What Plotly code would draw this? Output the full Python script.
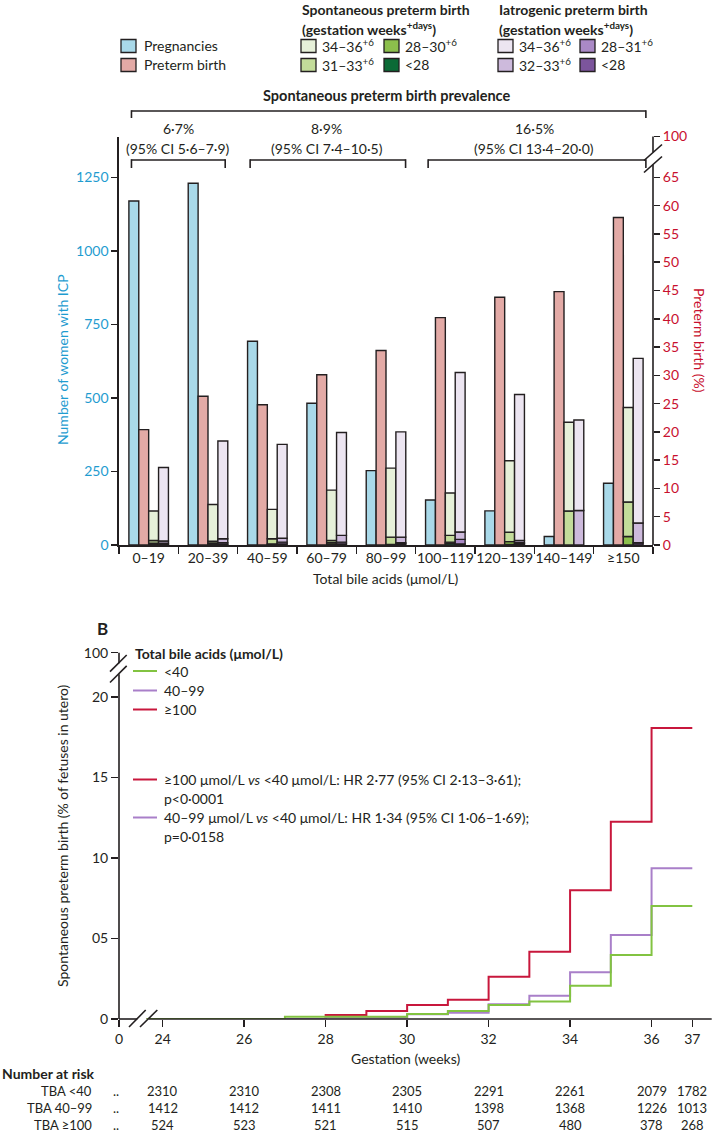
import plotly.graph_objects as go
import numpy as np

W, H = 713, 1133
def px(x): return x / W
def py(y): return 1 - y / H

# ---------------- DATA: Panel A ----------------
categories = ["0–19", "20–39", "40–59", "60–79", "80–99", "100–119", "120–139", "140–149", "≥150"]
pregnancies = [1170, 1230, 693, 482, 253, 153, 116, 29, 210]
preterm_pct = [20.4, 26.3, 24.8, 30.1, 34.4, 40.2, 43.8, 44.8, 57.9]
# spontaneous preterm birth (%), by gestation at delivery
sp_lt28 = [0.1, 0.15, 0.05, 0.1, 0.0, 0.3, 0.1, 0.0, 0.0]
sp_28_30 = [0.2, 0.2, 0.15, 0.3, 0.1, 0.2, 0.5, 0.0, 1.5]
sp_31_33 = [0.5, 0.3, 0.9, 0.4, 1.3, 1.2, 1.65, 6.0, 6.1]
sp_34_36 = [5.2, 6.5, 5.2, 8.9, 12.2, 7.5, 12.65, 15.7, 16.7]
# iatrogenic preterm birth (%)
ia_lt28 = [0.1, 0.1, 0.2, 0.2, 0.2, 0.2, 0.2, 0.0, 0.4]
ia_28_31 = [0.2, 0.3, 0.3, 0.3, 0.2, 0.8, 0.2, 0.0, 0.0]
ia_32_33 = [0.4, 0.7, 0.7, 1.2, 1.0, 1.3, 0.4, 6.1, 3.5]
ia_34_36 = [13.0, 17.3, 16.6, 18.2, 18.6, 28.2, 25.8, 16.0, 29.1]
left_ticks = [0, 250, 500, 750, 1000, 1250]
right_ticks = [0, 5, 10, 15, 20, 25, 30, 35, 40, 45, 50, 55, 60, 65]
prevalence = ["6·7%", "8·9%", "16·5%"]
prevalence_ci = ["(95% CI 5·6–7·9)", "(95% CI 7·4–10·5)", "(95% CI 13·4–20·0)"]

# ---------------- DATA: Panel B ----------------
weeks = [23.6, 27, 28, 29, 30, 31, 32, 33, 34, 35, 36, 37]
tba_lt40 = [0, 0.14, 0.14, 0.14, 0.31, 0.5, 0.87, 1.08, 2.07, 3.98, 7.02, 7.02]
tba_40_99 = [0, 0, 0.1, 0.1, 0.29, 0.39, 0.91, 1.45, 2.9, 5.22, 9.36, 9.36]
tba_ge100 = [0, 0, 0.25, 0.5, 0.87, 1.2, 2.63, 4.18, 8.0, 12.25, 18.07, 18.07]
b_xticks = [24, 26, 28, 30, 32, 34, 36, 37]
b_yticks = [0, 5, 10, 15, 20]
b_yticktext = ["0", "05", "10", "15", "20"]
risk_weeks = [24, 26, 28, 30, 32, 34, 36, 37]
risk_labels = ["TBA <40", "TBA 40–99", "TBA ≥100"]
risk_lt40 = [2310, 2310, 2308, 2305, 2291, 2261, 2079, 1782]
risk_40_99 = [1412, 1412, 1411, 1410, 1398, 1368, 1226, 1013]
risk_ge100 = [524, 523, 521, 515, 507, 480, 378, 268]

# ---------------- STYLE ----------------
FONT = "Lato"
C_AX = "#231f20"
C_CYAN = "#1f9cd0"
C_RED = "#c8102e"
C_PREG = "#a9d9e9"
C_PTB = "#e3aaa6"
C_SP = {"34": "#e6f0d9", "31": "#c3dc9a", "28": "#8cbf4c", "lt": "#0b6a36"}
C_IA = {"34": "#ece5f1", "32": "#cdbadc", "28": "#aa89c6", "lt": "#7c559c"}
L_GREEN = "#82c341"
L_PURPLE = "#a97fc9"
L_RED = "#c8173c"

BW = 1 / 6
bar_line = dict(color=C_AX, width=1.4)

fig = go.Figure()

# Panel A bars
fig.add_trace(go.Bar(x=categories, y=pregnancies, xaxis="x", yaxis="y", width=BW, offset=-2 * BW,
                     marker=dict(color=C_PREG, line=bar_line), showlegend=False))
fig.add_trace(go.Bar(x=categories, y=preterm_pct, xaxis="x", yaxis="y2", width=BW, offset=-BW,
                     marker=dict(color=C_PTB, line=bar_line), showlegend=False))
base = np.zeros(len(categories))
for vals, col in [(sp_lt28, C_SP["lt"]), (sp_28_30, C_SP["28"]), (sp_31_33, C_SP["31"]), (sp_34_36, C_SP["34"])]:
    fig.add_trace(go.Bar(x=categories, y=vals, base=base.copy(), xaxis="x", yaxis="y2", width=BW, offset=0,
                         marker=dict(color=col, line=bar_line), showlegend=False))
    base += np.array(vals)
base = np.zeros(len(categories))
for vals, col in [(ia_lt28, C_IA["lt"]), (ia_28_31, C_IA["28"]), (ia_32_33, C_IA["32"]), (ia_34_36, C_IA["34"])]:
    fig.add_trace(go.Bar(x=categories, y=vals, base=base.copy(), xaxis="x", yaxis="y2", width=BW, offset=BW,
                         marker=dict(color=col, line=bar_line), showlegend=False))
    base += np.array(vals)

# Panel B curves
for ys, col in [(tba_ge100, L_RED), (tba_40_99, L_PURPLE), (tba_lt40, L_GREEN)]:
    fig.add_trace(go.Scatter(x=weeks, y=ys, xaxis="x2", yaxis="y3", mode="lines",
                             line=dict(color=col, width=2, shape="hv"), showlegend=False, cliponaxis=False))

# axes geometry
A_L, A_R, A_B, A_T = 119, 653, 545, 136.5
Y2_TOP = (A_B - A_T) / ((A_B - 177.4) / 65)
Y_TOP = Y2_TOP * 1250 / 65
B_L, B_R, B_B, B_T = 119, 711.7, 1019, 652.7
PXW = (692.3 - 162.7) / 13
X2_MIN = 24 - (162.7 - B_L) / PXW
X2_MAX = 37 + (B_R - 692.3) / PXW
PXU = (B_B - 938.5) / 5
Y3_TOP = (B_B - B_T) / PXU

tickfont = dict(family=FONT, size=14, color=C_AX)
common = dict(automargin=False, showgrid=False, zeroline=False, fixedrange=True)
fig.update_layout(
    template="none",
    width=W, height=H, margin=dict(l=0, r=0, t=0, b=0, pad=0), autosize=False,
    paper_bgcolor="white", plot_bgcolor="white", barmode="overlay", showlegend=False,
    font=dict(family=FONT, size=14, color=C_AX),
    xaxis=dict(domain=[px(A_L), px(A_R)], anchor="y", type="category", range=[-0.5, 8.5], tickangle=0,
               tickson="boundaries", ticks="outside", ticklen=7, tickwidth=1.5, tickcolor=C_AX,
               showline=True, linecolor=C_AX, linewidth=1.6, tickfont=tickfont, **common),
    yaxis=dict(domain=[py(A_B), py(A_T)], anchor="x", range=[0, Y_TOP], tickvals=left_ticks,
               ticks="outside", ticklen=6, tickwidth=1.5, tickcolor=C_AX, showline=True, linecolor=C_AX,
               linewidth=1.6, tickfont=dict(family=FONT, size=14, color=C_CYAN), **common),
    yaxis2=dict(overlaying="y", side="right", anchor="x", range=[0, Y2_TOP],
                tickvals=right_ticks + [Y2_TOP], ticktext=[str(t) for t in right_ticks] + ["100"],
                ticks="outside", ticklen=6, tickwidth=1.5, tickcolor=C_AX, showline=False,
                tickfont=dict(family=FONT, size=14, color=C_RED), **common),
    xaxis2=dict(domain=[px(B_L), px(B_R)], anchor="y3", range=[X2_MIN, X2_MAX], tickangle=0,
                tickvals=[X2_MIN] + b_xticks, ticktext=["0"] + [str(t) for t in b_xticks],
                ticks="outside", ticklen=7, tickwidth=1.5, tickcolor=C_AX, showline=False,
                tickfont=tickfont, **common),
    yaxis3=dict(domain=[py(B_B), py(B_T)], anchor="x2", range=[0, Y3_TOP],
                tickvals=b_yticks + [Y3_TOP], ticktext=b_yticktext + ["100"],
                ticks="outside", ticklen=7, tickwidth=1.5, tickcolor=C_AX, showline=False,
                tickfont=tickfont, **common),
)

shapes = []
ann = []
def pline(x0, y0, x1, y1, color=C_AX, width=1.6):
    shapes.append(dict(type="line", xref="paper", yref="paper", x0=px(x0), y0=py(y0), x1=px(x1), y1=py(y1),
                       line=dict(color=color, width=width)))
def text(x, y, s, size=14, color=C_AX, xanchor="left", bold=False, angle=0):
    if bold:
        s = "<b>" + s + "</b>"
    ann.append(dict(xref="paper", yref="paper", x=px(x), y=py(y), text=s, showarrow=False,
                    xanchor=xanchor, yanchor="middle", textangle=angle,
                    font=dict(family=FONT, size=size, color=color)))
def box(x, y, col):
    shapes.append(dict(type="rect", xref="paper", yref="paper", x0=px(x), x1=px(x + 15), y0=py(y + 6.5), y1=py(y - 6.5),
                       fillcolor=col, line=dict(color=C_AX, width=1.3)))

# ---- Panel A legend ----
box(121, 46, C_PREG); text(142, 46, "Pregnancies")
box(121, 65, C_PTB); text(142, 65, "Preterm birth")
text(300, 9, "Spontaneous preterm birth", bold=True)
text(300, 28, "(gestation weeks<sup>+days</sup>)", bold=True)
box(301, 46, C_SP["34"]); text(320, 46, "34–36<sup>+6</sup>")
box(301, 65, C_SP["31"]); text(320, 65, "31–33<sup>+6</sup>")
box(384, 46, C_SP["28"]); text(403, 46, "28–30<sup>+6</sup>")
box(384, 65, C_SP["lt"]); text(403, 65, "<28")
text(497, 9, "Iatrogenic preterm birth", bold=True)
text(497, 28, "(gestation weeks<sup>+days</sup>)", bold=True)
box(498, 46, C_IA["34"]); text(517, 46, "34–36<sup>+6</sup>")
box(498, 65, C_IA["32"]); text(517, 65, "32–33<sup>+6</sup>")
box(580, 46, C_IA["28"]); text(599, 46, "28–31<sup>+6</sup>")
box(580, 65, C_IA["lt"]); text(599, 65, "<28")

# ---- prevalence brackets ----
def cat_px(c):
    return A_L + (c + 0.5) * (A_R - A_L) / 9
text(cat_px(4), 95, "Spontaneous preterm birth prevalence", size=14.5, xanchor="center", bold=True)
pline(cat_px(-0.29), 111, cat_px(8.38), 111)
pline(cat_px(-0.29), 110.2, cat_px(-0.29), 118)
pline(cat_px(8.38), 110.2, cat_px(8.38), 118)
groups = [(-0.29, 1.29), (1.71, 4.33), (4.71, 8.38)]
centers = [0.5, 3, 6.5]
for (a, b), c, p, ci in zip(groups, centers, prevalence, prevalence_ci):
    pline(cat_px(a), 160, cat_px(b), 160)
    pline(cat_px(a), 159.2, cat_px(a), 168)
    pline(cat_px(b), 159.2, cat_px(b), 168)
    text(cat_px(c), 129, p, xanchor="center")
    text(cat_px(c), 148, ci, xanchor="center")

# right axis with break
pline(A_R, A_B, A_R, 164.5)
pline(A_R, 152.5, A_R, A_T)
pline(644, 172.5, 662, 156.5)
pline(644, 160.5, 662, 144.5)

# axis titles A
text(62, 360, "Number of women with ICP", color=C_CYAN, xanchor="center", angle=-90)
text(700, 340, "Preterm birth (%)", color=C_RED, xanchor="center", angle=90)
text(386, 578, "Total bile acids (μmol/L)", xanchor="center")

# ---- Panel B ----
text(102, 628, "B", size=17, xanchor="center", bold=True)
pline(B_L, B_B, B_L, 674.2)
pline(B_L, 663.3, B_L, B_T)
pline(110, 682.5, 126.7, 665.9)
pline(110, 671.6, 126.7, 655.0)
pline(B_L, B_B, 137.3, B_B)
pline(148.7, B_B, B_R, B_B)
pline(129, 1027, 145.7, 1010)
pline(140, 1027, 157.3, 1010)

text(133, 653, "Total bile acids (μmol/L)", bold=True)
for yy, col, lab in [(671, L_GREEN, "<40"), (690.5, L_PURPLE, "40–99"), (709.5, L_RED, "≥100")]:
    pline(133, yy, 157, yy, color=col, width=2)
    text(162, yy, lab)
pline(133, 779.5, 157, 779.5, color=L_RED, width=2)
text(162, 779.5, "≥100 μmol/L <i>vs</i> <40 μmol/L: HR 2·77 (95% CI 2·13–3·61);")
text(162, 798.5, "p<0·0001")
pline(133, 817.5, 157, 817.5, color=L_PURPLE, width=2)
text(162, 817.5, "40–99 μmol/L <i>vs</i> <40 μmol/L: HR 1·34 (95% CI 1·06–1·69);")
text(162, 836.5, "p=0·0158")

text(62, 836, "Spontaneous preterm birth (% of fetuses in utero)", xanchor="center", angle=-90)
text(405, 1058, "Gestation (weeks)", xanchor="center")

# number at risk table
text(0, 1073, "Number at risk", bold=True)
for row_y, lab, vals in zip([1091, 1108, 1124.5], risk_labels, [risk_lt40, risk_40_99, risk_ge100]):
    text(94, row_y, lab, size=13, xanchor="right")
    text(116, row_y, "..", size=13, xanchor="center")
    for wk, v in zip(risk_weeks, vals):
        ann.append(dict(xref="x2", yref="paper", x=wk, y=py(row_y), text=str(v), showarrow=False,
                        xanchor="center", yanchor="middle", font=dict(family=FONT, size=13, color=C_AX)))

fig.update_layout(shapes=shapes, annotations=ann)
fig.write_html("out.html", config={"displayModeBar": False, "staticPlot": True},
               post_script="document.body.style.margin='0';document.body.style.padding='0';"
                           "document.body.style.overflow='hidden';")
